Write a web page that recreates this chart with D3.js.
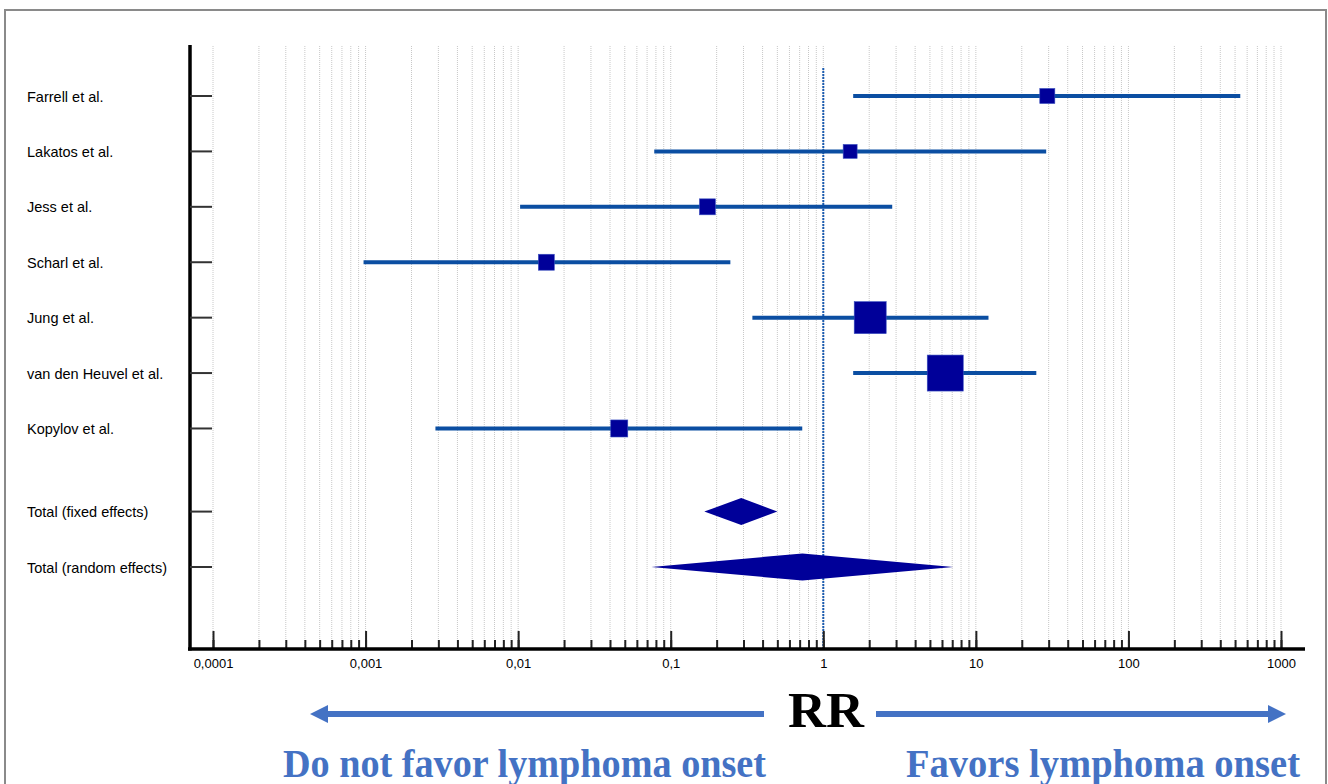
<!DOCTYPE html>
<html>
<head>
<meta charset="utf-8">
<script src="https://cdn.jsdelivr.net/npm/d3@7"></script>
<style>
  body { margin: 0; background: #fff; }
  svg { display: block; }
</style>
</head>
<body>
<div id="chart"></div>
<script>
const studies = ["Farrell et al.", "Lakatos et al.", "Jess et al.", "Scharl et al.", "Jung et al.", "van den Heuvel et al.", "Kopylov et al."];
const rr = [29.4, 1.50, 0.174, 0.0153, 2.03, 6.30, 0.046];
const lower = [1.57, 0.078, 0.0103, 0.00097, 0.343, 1.57, 0.00287];
const upper = [541, 28.9, 2.83, 0.246, 12.1, 24.9, 0.728];
const weights = [6.4, 5.5, 7.2, 7.2, 28.9, 36.6, 8.2];

const pooled = ["Total (fixed effects)", "Total (random effects)"];
const pooledRR = [0.29, 0.73];
const pooledLower = [0.166, 0.0746];
const pooledUpper = [0.50, 7.11];

const majorTicks = [0.0001, 0.001, 0.01, 0.1, 1, 10, 100, 1000];
const tickLabels = ["0,0001", "0,001", "0,01", "0,1", "1", "10", "100", "1000"];

const W = 1328, H = 784;
const ciColor = "#0b4ea2";
const markColor = "#000099";
const arrowColor = "#4472c4";

const svg = d3.select("#chart").append("svg")
    .attr("width", W)
    .attr("height", H);

// frame
svg.append("rect")
    .attr("x", 5).attr("y", 10)
    .attr("width", 1321).attr("height", 790)
    .attr("fill", "none")
    .attr("stroke", "#8a8a8a")
    .attr("stroke-width", 2);

const x = d3.scaleLog().domain([0.0001, 1000]).range([213, 1281]);
const y = d3.scaleLinear().domain([0, 8.5]).range([96, 567]);
const axisY = 649, plotTop = 46;

// dotted grid
svg.append("g").selectAll("line")
    .data(x.ticks())
    .enter()
    .append("line")
    .attr("x1", d => x(d)).attr("x2", d => x(d))
    .attr("y1", plotTop).attr("y2", axisY)
    .attr("stroke", "#c8c8c8")
    .attr("stroke-width", 1)
    .attr("stroke-dasharray", "1,1");

// reference line at RR = 1
svg.append("line")
    .attr("x1", x(1)).attr("x2", x(1))
    .attr("y1", 68).attr("y2", axisY)
    .attr("stroke", "#1c5cb0")
    .attr("stroke-width", 2)
    .attr("stroke-dasharray", "2,1");

// minor ticks
const minorAxis = svg.append("g")
    .attr("transform", `translate(0,${axisY})`)
    .call(d3.axisBottom(x).tickValues(x.ticks()).tickSizeInner(-9).tickSizeOuter(0).tickFormat(""));
minorAxis.select(".domain").remove();
minorAxis.selectAll(".tick line").attr("stroke", "#222").attr("stroke-width", 2);

// major ticks with labels
const majorAxis = svg.append("g")
    .attr("transform", `translate(0,${axisY})`)
    .call(d3.axisBottom(x).tickValues(majorTicks).tickSizeInner(-18).tickSizeOuter(0).tickPadding(10)
        .tickFormat((d, i) => tickLabels[i]));
majorAxis.select(".domain").remove();
majorAxis.selectAll(".tick line").attr("stroke", "#222").attr("stroke-width", 2);
majorAxis.selectAll("text")
    .attr("fill", "#000")
    .style("font-family", "'Liberation Sans', Arial, sans-serif")
    .style("font-size", "13px");

// axis frame lines
svg.append("line")
    .attr("x1", 188).attr("x2", 1305)
    .attr("y1", axisY).attr("y2", axisY)
    .attr("stroke", "#000").attr("stroke-width", 3.5);
svg.append("line")
    .attr("x1", 190).attr("x2", 190)
    .attr("y1", 45).attr("y2", axisY + 1.5)
    .attr("stroke", "#000").attr("stroke-width", 3.5);

// rows: labels and left ticks
const rowIndex = studies.map((d, i) => i).concat([7.5, 8.5]);
const rowLabels = studies.concat(pooled);

svg.append("g").selectAll("line")
    .data(rowIndex)
    .enter()
    .append("line")
    .attr("x1", 190).attr("x2", 212)
    .attr("y1", d => y(d)).attr("y2", d => y(d))
    .attr("stroke", "#333")
    .attr("stroke-width", 2);

svg.append("g").selectAll("text")
    .data(rowLabels)
    .enter()
    .append("text")
    .attr("x", 27)
    .attr("y", (d, i) => y(rowIndex[i]) + 5.5)
    .style("font-family", "'Liberation Sans', Arial, sans-serif")
    .style("font-size", "14.5px")
    .attr("fill", "#000")
    .text(d => d);

// confidence intervals
svg.append("g").selectAll("line")
    .data(studies)
    .enter()
    .append("line")
    .attr("x1", (d, i) => x(lower[i]))
    .attr("x2", (d, i) => x(upper[i]))
    .attr("y1", (d, i) => y(i))
    .attr("y2", (d, i) => y(i))
    .attr("stroke", ciColor)
    .attr("stroke-width", 4);

// weighted squares
const side = d3.scaleSqrt().domain([0, d3.max(weights)]).range([0, 36]);
svg.append("g").selectAll("rect")
    .data(studies)
    .enter()
    .append("rect")
    .attr("x", (d, i) => x(rr[i]) - side(weights[i]) / 2)
    .attr("y", (d, i) => y(i) - side(weights[i]) / 2)
    .attr("width", (d, i) => side(weights[i]))
    .attr("height", (d, i) => side(weights[i]))
    .attr("fill", markColor)
    .attr("stroke", "#3a4fc0")
    .attr("stroke-width", 0.6);

// pooled diamonds
svg.append("g").selectAll("path")
    .data(pooled)
    .enter()
    .append("path")
    .attr("d", (d, i) => {
        const cy = y(7.5 + i), h = 13.5;
        return `M${x(pooledLower[i])},${cy} L${x(pooledRR[i])},${cy - h} L${x(pooledUpper[i])},${cy} L${x(pooledRR[i])},${cy + h} Z`;
    })
    .attr("fill", markColor);

// bottom annotation
const ay = 714;
svg.append("path")
    .attr("d", `M764,${ay - 3} L328,${ay - 3} L328,${ay - 9} L310,${ay} L328,${ay + 9} L328,${ay + 3} L764,${ay + 3} Z`)
    .attr("fill", arrowColor);
svg.append("path")
    .attr("d", `M876,${ay - 3} L1268,${ay - 3} L1268,${ay - 9} L1286,${ay} L1268,${ay + 9} L1268,${ay + 3} L876,${ay + 3} Z`)
    .attr("fill", arrowColor);

svg.append("text")
    .attr("x", 788).attr("y", 727)
    .attr("textLength", 76)
    .attr("lengthAdjust", "spacingAndGlyphs")
    .style("font-family", "'Liberation Serif', 'Times New Roman', serif")
    .style("font-weight", "bold")
    .style("font-size", "51px")
    .attr("fill", "#000")
    .text("RR");

svg.append("text")
    .attr("x", 283).attr("y", 777)
    .attr("textLength", 483)
    .attr("lengthAdjust", "spacingAndGlyphs")
    .style("font-family", "'Liberation Serif', 'Times New Roman', serif")
    .style("font-weight", "bold")
    .style("font-size", "39px")
    .attr("fill", arrowColor)
    .text("Do not favor lymphoma onset");

svg.append("text")
    .attr("x", 906).attr("y", 777)
    .attr("textLength", 394)
    .attr("lengthAdjust", "spacingAndGlyphs")
    .style("font-family", "'Liberation Serif', 'Times New Roman', serif")
    .style("font-weight", "bold")
    .style("font-size", "39px")
    .attr("fill", arrowColor)
    .text("Favors lymphoma onset");
</script>
</body>
</html>
